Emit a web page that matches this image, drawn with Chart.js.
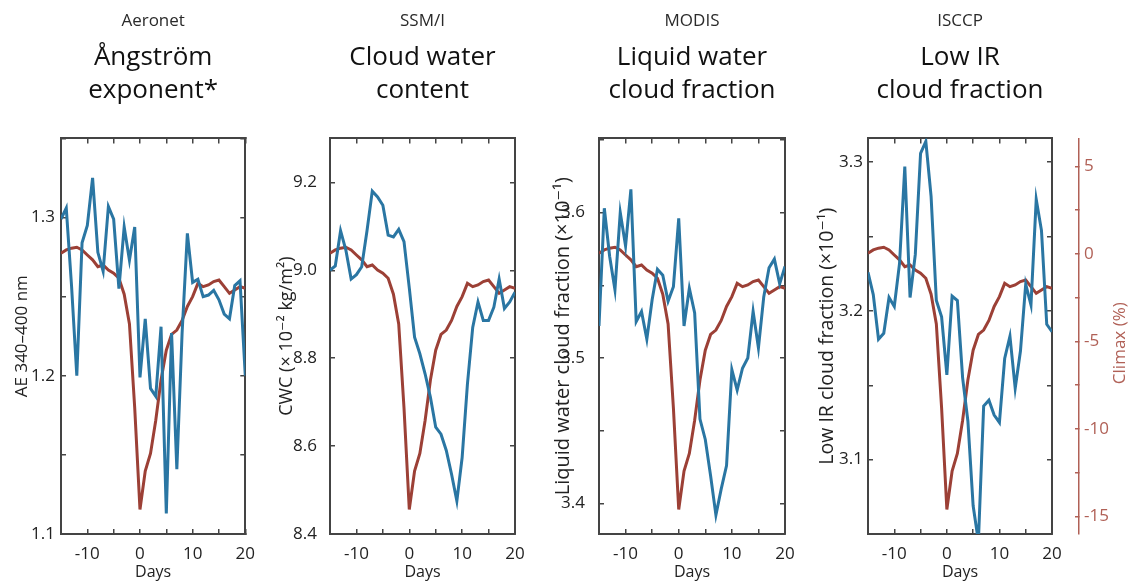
<!DOCTYPE html>
<html>
<head>
<meta charset="utf-8">
<script src="https://cdn.jsdelivr.net/npm/chart.js@4.4.1/dist/chart.umd.min.js"></script>
<style>
  body { margin: 0; background: #fff; }
  #wrap { position: relative; width: 1137px; height: 584px; overflow: hidden; }
  canvas { position: absolute; top: 0; }
</style>
</head>
<body>
<div id="wrap">
  <canvas id="p1" width="270" height="584" style="left:0px"></canvas>
  <canvas id="p2" width="270" height="584" style="left:270px"></canvas>
  <canvas id="p3" width="270" height="584" style="left:540px"></canvas>
  <canvas id="p4" width="327" height="584" style="left:810px"></canvas>
</div>
<script>
// days relative to climax onset
const days = [-15, -14, -13, -12, -11, -10, -9, -8, -7, -6, -5, -4, -3, -2, -1, 0,
  1, 2, 3, 4, 5, 6, 7, 8, 9, 10, 11, 12, 13, 14, 15, 16, 17, 18, 19, 20];

// Climax neutron monitor (%), same curve in every panel
const climax = [0.04, 0.23, 0.33, 0.38, 0.23, -0.06, -0.34, -0.73, -0.63, -0.92, -1.1, -1.39,
  -2.3, -4.0, -8.8, -14.6, -12.4, -11.4, -9.5, -7.2, -5.5, -4.6, -4.35, -3.8, -3.0, -2.44,
  -1.68, -1.87, -1.77, -1.58, -1.49, -1.87, -2.25, -2.06, -1.87, -1.96];

// Aeronet Angstrom exponent 340-400 nm
const aeronet = [1.299, 1.306, 1.257, 1.200, 1.284, 1.295, 1.325, 1.278, 1.266, 1.307, 1.299, 1.255,
  1.294, 1.273, 1.294, 1.199, 1.236, 1.192, 1.187, 1.231, 1.113, 1.227, 1.141, 1.227, 1.290, 1.259,
  1.261, 1.250, 1.251, 1.254, 1.248, 1.239, 1.236, 1.257, 1.260, 1.200];

// SSM/I cloud water content (x10^-2 kg/m2)
const ssmi = [9.0, 9.01, 9.09, 9.046, 8.98, 8.99, 9.008, 9.09, 9.18, 9.167, 9.148, 9.08,
  9.076, 9.093, 9.065, 8.96, 8.848, 8.81, 8.764, 8.711, 8.643, 8.627, 8.59, 8.536, 8.475, 8.574,
  8.741, 8.87, 8.928, 8.886, 8.886, 8.916, 8.98, 8.913, 8.928, 8.95];

// MODIS liquid water cloud fraction (x10^-1)
const modis = [3.522, 3.603, 3.570, 3.547, 3.600, 3.577, 3.616, 3.525, 3.532, 3.513, 3.540, 3.561,
  3.557, 3.539, 3.549, 3.596, 3.522, 3.548, 3.531, 3.458, 3.444, 3.419, 3.392, 3.410, 3.426, 3.492,
  3.478, 3.493, 3.500, 3.532, 3.507, 3.542, 3.562, 3.568, 3.551, 3.563];

// ISCCP low IR cloud fraction (x10^-1)
const isccp = [3.226, 3.211, 3.181, 3.185, 3.209, 3.203, 3.232, 3.297, 3.209, 3.238, 3.306, 3.314,
  3.277, 3.207, 3.196, 3.157, 3.210, 3.207, 3.155, 3.126, 3.069, 3.045, 3.136, 3.140, 3.130, 3.125,
  3.168, 3.183, 3.148, 3.173, 3.218, 3.204, 3.275, 3.254, 3.191, 3.186];

const BLUE = 'rgb(42,118,163)';
const RED = 'rgb(156,64,54)';
const CLIMAX_AXIS = 'rgb(176,96,86)';
const AXIS = '#444';
const FONT = '"Open Sans", "DejaVu Sans", sans-serif';

Chart.defaults.font.family = FONT;
Chart.defaults.color = '#222';

function pts(vals) {
  return days.map((d, i) => ({ x: d, y: vals[i] }));
}

function frameGrid() {
  return { drawOnChartArea: false, drawTicks: true, tickLength: -5, color: AXIS, lineWidth: 1.5 };
}

// draws the rotated Climax axis title (reads bottom to top)
const climaxTitle = {
  id: 'climaxTitle',
  afterDraw(chart) {
    const s = chart.scales.c;
    if (!s || !s.options.display) return;
    const ctx = chart.ctx;
    ctx.save();
    ctx.translate(s.right - 17, (s.top + s.bottom) / 2 + 7);
    ctx.rotate(-Math.PI / 2);
    ctx.font = '17px ' + FONT;
    ctx.fillStyle = CLIMAX_AXIS;
    ctx.textAlign = 'center';
    ctx.textBaseline = 'middle';
    ctx.fillText('Climax (%)', 0, 0);
    ctx.restore();
  }
};

function panel(id, p) {
  const scales = {
    x: {
      type: 'linear', position: 'bottom', min: -15, max: 20,
      ticks: { stepSize: 5, autoSkip: false, maxRotation: 0, font: { size: 17 }, color: '#222', padding: 15,
        callback: v => (v % 10 === 0 ? String(v) : '') },
      grid: frameGrid(),
      border: { display: true, color: AXIS, width: 2 },
      title: { display: true, text: 'Days', font: { size: 16 }, color: '#222', padding: { top: 0, bottom: 2 } },
      afterFit: s => { s.height = 50; }
    },
    xt: {
      type: 'linear', position: 'top', min: -15, max: 20,
      ticks: { display: false, stepSize: 5, autoSkip: false },
      grid: frameGrid(),
      border: { display: true, color: AXIS, width: 2 },
      afterFit: s => { s.height = 0; }
    },
    y: {
      type: 'linear', position: 'left', min: p.min, max: p.max,
      ticks: { stepSize: p.step, autoSkip: false, includeBounds: false, font: { size: 17 }, color: '#222',
        padding: p.tickPad, callback: p.label },
      grid: frameGrid(),
      border: { display: true, color: AXIS, width: 2 },
      title: { display: true, text: p.ytitle, font: { size: p.titleSize }, color: '#222',
        padding: { top: p.titlePad, bottom: 0 } },
      afterFit: s => { s.width = p.yWidth; }
    },
    yr: {
      type: 'linear', position: 'right', weight: 0, min: p.min, max: p.max,
      ticks: { display: false, stepSize: p.step, autoSkip: false, includeBounds: false },
      grid: frameGrid(),
      border: { display: true, color: AXIS, width: 2 },
      afterFit: s => { s.width = p.gap; }
    },
    c: {
      type: 'linear', position: 'right', weight: 1, min: -16, max: 6.6,
      display: !!p.showClimax,
      ticks: { stepSize: 2.5, autoSkip: false, includeBounds: false, font: { size: 17 }, color: CLIMAX_AXIS,
        padding: 9, callback: v => (v % 5 === 0 ? String(v) : '') },
      grid: { drawOnChartArea: false, drawTicks: true, tickLength: -4, color: CLIMAX_AXIS, lineWidth: 1.5 },
      border: { display: true, color: CLIMAX_AXIS, width: 1.5 },
      afterFit: s => { s.width = p.showClimax ? 58 : 0; }
    }
  };

  return new Chart(document.getElementById(id), {
    type: 'line',
    data: {
      datasets: [
        { label: p.name, data: pts(p.values), yAxisID: 'y', borderColor: BLUE, borderWidth: 3,
          pointRadius: 0, tension: 0, fill: false },
        { label: 'Climax', data: pts(climax), yAxisID: 'c', borderColor: RED, borderWidth: 3,
          pointRadius: 0, tension: 0, fill: false }
      ]
    },
    options: {
      responsive: false,
      animation: false,
      devicePixelRatio: 1,
      layout: { padding: { left: 0, right: p.padRight, top: 0, bottom: 0 } },
      plugins: {
        legend: { display: false },
        tooltip: { enabled: false },
        title: { display: true, text: p.source, fullSize: false, color: '#2a2a2a',
          font: { size: 17, weight: 'normal', lineHeight: 1.2 }, padding: { top: 11, bottom: 3 } },
        subtitle: { display: true, text: p.heading, fullSize: false, color: '#111',
          font: { size: 26, weight: 'normal', lineHeight: 1.25 }, padding: { top: 7, bottom: 32 } }
      },
      scales: scales
    },
    plugins: [climaxTitle]
  });
}

const tenths = v => (Math.round(v * 100) % 10 === 0 ? v.toFixed(1) : '');

panel('p1', {
  name: 'AE', values: aeronet, source: 'Aeronet', heading: ['Ångström', 'exponent*'],
  min: 1.1, max: 1.35, step: 0.05, label: tenths,
  ytitle: 'AE 340–400 nm', titleSize: 17, yWidth: 61, tickPad: 11, titlePad: 12, gap: 0, padRight: 24
});

panel('p2', {
  name: 'CWC', values: ssmi, source: 'SSM/I', heading: ['Cloud water', 'content'],
  min: 8.4, max: 9.3, step: 0.2, label: v => v.toFixed(1),
  ytitle: 'CWC (× 10⁻² kg/m²)', titleSize: 18, yWidth: 60, tickPad: 18, titlePad: 6, gap: 0, padRight: 25
});

panel('p3', {
  name: 'LWCF', values: modis, source: 'MODIS', heading: ['Liquid water', 'cloud fraction'],
  min: 3.379, max: 3.651, step: 0.05, label: tenths,
  ytitle: 'Liquid water cloud fraction (×10⁻¹)', titleSize: 20, yWidth: 59, tickPad: 19, titlePad: 11, gap: 0,
  padRight: 25
});

panel('p4', {
  name: 'Low IR', values: isccp, source: 'ISCCP', heading: ['Low IR', 'cloud fraction'],
  min: 3.05, max: 3.316, step: 0.05, label: tenths,
  ytitle: 'Low IR cloud fraction (×10⁻¹)', titleSize: 19.5, yWidth: 58, tickPad: 10, titlePad: 6, gap: 27,
  padRight: 0, showClimax: true
});
</script>
</body>
</html>
